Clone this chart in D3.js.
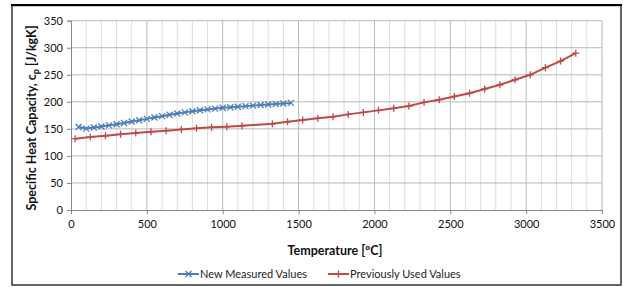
<!DOCTYPE html>
<html>
<head>
<meta charset="utf-8">
<script src="https://cdn.jsdelivr.net/npm/d3@7"></script>
<style>
  body { margin: 0; background: #fff; }
  text { font-family: Lato, "Liberation Sans", sans-serif; }
</style>
</head>
<body>
<script>
// data
var newTemps = [50, 100, 150, 200, 250, 300, 350, 400, 450, 500, 550, 600, 650, 700, 750,
                800, 850, 900, 950, 1000, 1050, 1100, 1150, 1200, 1250, 1300, 1350, 1400, 1450];
var newCp = [153.5, 150.5, 152.5, 154.5, 156.5, 158.5, 161, 163.5, 166, 168.5, 171, 173.5, 176, 178.5, 180.5,
             182.5, 184.5, 186, 187.5, 189, 190, 191, 192, 193, 194, 195, 196, 197, 198];

var oldTemps = [27, 127, 227, 327, 427, 527, 627, 727, 827, 927, 1027, 1127, 1327, 1427, 1527, 1627, 1727,
                1827, 1927, 2027, 2127, 2227, 2327, 2427, 2527, 2627, 2727, 2827, 2927, 3027, 3127, 3227, 3327];
var oldCp = [131.8, 134.9, 137.3, 139.9, 142.3, 144.7, 146.6, 149, 151, 152.8, 154, 155.8, 159.5, 163, 166.5, 169.5, 172.5,
             176.8, 180.5, 184.2, 188, 192.2, 199, 204, 210, 216, 223.8, 231.5, 240.8, 250, 263.3, 275.4, 290];

var xTicks = [0, 500, 1000, 1500, 2000, 2500, 3000, 3500];
var yTicks = [0, 50, 100, 150, 200, 250, 300, 350];

var W = 623, H = 287;

var svg = d3.select("body").append("svg")
    .attr("width", W)
    .attr("height", H);

// outer frame
svg.append("rect")
    .attr("x", 12).attr("y", 5.5)
    .attr("width", 609).attr("height", 279.5)
    .attr("fill", "none")
    .attr("stroke", "#333")
    .attr("stroke-width", 1.5);
svg.append("line")
    .attr("x1", 11).attr("x2", 622).attr("y1", 5).attr("y2", 5)
    .attr("stroke", "#000").attr("stroke-width", 2);

var x = d3.scaleLinear().domain([0, 3500]).range([71, 602]);
var y = d3.scaleLinear().domain([0, 350]).range([210, 20.7]);

// minor vertical grid every 100
svg.append("g")
    .selectAll("line")
    .data(d3.range(100, 3600, 100).filter(function (d) { return d % 500 !== 0; }))
    .enter().append("line")
    .attr("x1", function (d) { return x(d) }).attr("x2", function (d) { return x(d) })
    .attr("y1", y(0)).attr("y2", y(350))
    .attr("stroke", "#dcdcdc").attr("stroke-width", 1);

// major grid
svg.append("g")
    .selectAll("line")
    .data(xTicks.slice(1))
    .enter().append("line")
    .attr("x1", function (d) { return x(d) }).attr("x2", function (d) { return x(d) })
    .attr("y1", y(0)).attr("y2", y(350))
    .attr("stroke", "#b8b8b8").attr("stroke-width", 1);

svg.append("g")
    .selectAll("line")
    .data(yTicks.slice(1))
    .enter().append("line")
    .attr("x1", x(0)).attr("x2", x(3500))
    .attr("y1", function (d) { return y(d) }).attr("y2", function (d) { return y(d) })
    .attr("stroke", "#b8b8b8").attr("stroke-width", 1);

// axes
var xAxis = svg.append("g")
    .attr("transform", "translate(0," + y(0) + ")")
    .call(d3.axisBottom(x).tickValues(xTicks).tickFormat(d3.format("d")).tickSize(4).tickPadding(6));
var yAxis = svg.append("g")
    .attr("transform", "translate(" + x(0) + ",0)")
    .call(d3.axisLeft(y).tickValues(yTicks).tickSize(4).tickPadding(4));

[xAxis, yAxis].forEach(function (a) {
    a.select(".domain").attr("stroke", "#868686");
    a.selectAll(".tick line").attr("stroke", "#868686");
    a.selectAll("text")
        .attr("fill", "#111")
        .style("font-size", "11px")
        .style("font-family", "Lato, 'Liberation Sans', sans-serif");
});

// lines
var line = d3.line()
    .x(function (d) { return x(d[0]) })
    .y(function (d) { return y(d[1]) });

var newData = newTemps.map(function (t, i) { return [t, newCp[i]] });
var oldData = oldTemps.map(function (t, i) { return [t, oldCp[i]] });

var blue = "#4a7ebb", red = "#be4b48";

svg.append("path")
    .datum(oldData)
    .attr("fill", "none")
    .attr("stroke", red)
    .attr("stroke-width", 2)
    .attr("d", line);

svg.append("g")
    .selectAll("path")
    .data(oldData)
    .enter().append("path")
    .attr("transform", function (d) { return "translate(" + x(d[0]) + "," + y(d[1]) + ")" })
    .attr("d", "M-3.5,0H3.5M0,-3.5V3.5")
    .attr("stroke", red)
    .attr("stroke-width", 1.3);

svg.append("path")
    .datum(newData)
    .attr("fill", "none")
    .attr("stroke", blue)
    .attr("stroke-width", 2)
    .attr("d", line);

svg.append("g")
    .selectAll("path")
    .data(newData)
    .enter().append("path")
    .attr("transform", function (d) { return "translate(" + x(d[0]) + "," + y(d[1]) + ")" })
    .attr("d", "M-3,-3L3,3M-3,3L3,-3")
    .attr("stroke", blue)
    .attr("stroke-width", 1.3);

// axis titles
var yTitle = svg.append("text")
    .attr("transform", "translate(36,118) rotate(-90)")
    .attr("text-anchor", "middle")
    .style("font-size", "12.5px")
    .style("font-weight", "bold")
    .attr("fill", "#111");
yTitle.append("tspan").text("Specific Heat Capacity, c");
yTitle.append("tspan").text("p").attr("dy", 3).style("font-size", "9px");
yTitle.append("tspan").text(" [J/kgK]").attr("dy", -3);

svg.append("text")
    .attr("x", 335).attr("y", 255)
    .attr("text-anchor", "middle")
    .style("font-size", "12.5px")
    .style("font-weight", "bold")
    .attr("fill", "#111")
    .text("Temperature [\u00BAC]");

// legend
var legend = [
    { name: "New Measured Values", color: blue, x0: 178, marker: "M-3,-3L3,3M-3,3L3,-3" },
    { name: "Previously Used Values", color: red, x0: 328, marker: "M-3.5,0H3.5M0,-3.5V3.5" }
];
var lg = svg.append("g").selectAll("g").data(legend).enter().append("g")
    .attr("transform", function (d) { return "translate(" + d.x0 + ",274)" });
lg.append("line")
    .attr("x1", 0).attr("x2", 21).attr("y1", 0).attr("y2", 0)
    .attr("stroke", function (d) { return d.color }).attr("stroke-width", 2);
lg.append("path")
    .attr("transform", "translate(10.5,0)")
    .attr("d", function (d) { return d.marker })
    .attr("stroke", function (d) { return d.color }).attr("stroke-width", 1.3);
lg.append("text")
    .attr("x", 22).attr("y", 4)
    .style("font-size", "11px")
    .attr("fill", "#222")
    .text(function (d) { return d.name });
</script>
</body>
</html>
